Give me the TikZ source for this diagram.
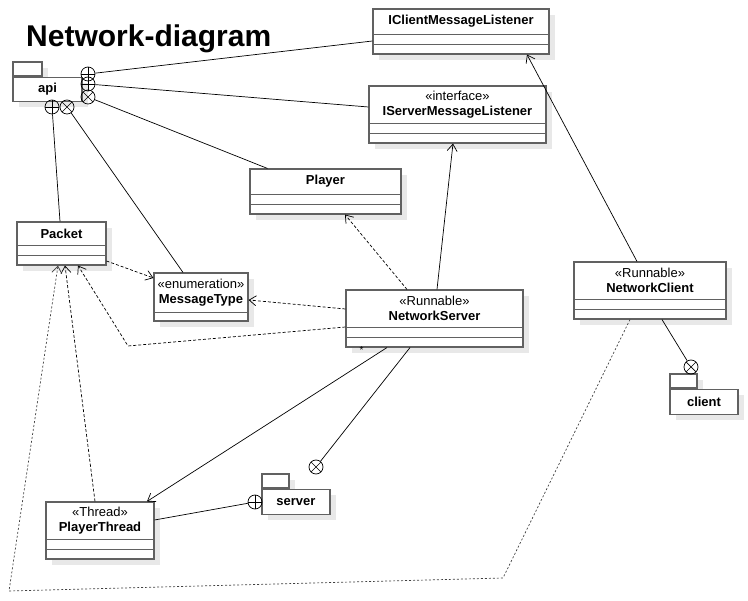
\documentclass[tikz,border=0pt]{standalone}
\usepackage{fontspec}
\setmainfont{Liberation Sans}
\usetikzlibrary{arrows.meta, shadows}

\tikzset{
  boxshadow/.style={drop shadow={shadow xshift=6pt, shadow yshift=-6pt, fill=black!9, opacity=1}},
  classbox/.style={draw=black!62, line width=1.1pt, fill=white, inner sep=0pt, boxshadow},
  classline/.style={draw=black!62, line width=1.1pt},
  classname/.style={font=\fontsize{13}{14.5}\selectfont, align=center, inner sep=0pt},
  pkgpart/.style={draw=black!62, line width=1.1pt, fill=white, inner sep=0pt, boxshadow,
    font=\bfseries\fontsize{13}{14.5}\selectfont},
  nestplus/.style={circle, draw, line width=0.7pt, minimum size=14pt, inner sep=0pt,
    path picture={\draw[line width=0.7pt] (path picture bounding box.north) -- (path picture bounding box.south)
      (path picture bounding box.west) -- (path picture bounding box.east);}},
  nestcross/.style={circle, draw, line width=0.7pt, minimum size=14pt, inner sep=0pt,
    path picture={\draw[line width=0.7pt] (path picture bounding box.north west) -- (path picture bounding box.south east)
      (path picture bounding box.north east) -- (path picture bounding box.south west);}},
  nestline/.style={line width=0.7pt},
  realize/.style={line width=0.7pt, -{Straight Barb[length=7pt, width=10pt]}},
  depend/.style={line width=0.7pt, dash pattern=on 3pt off 2pt, -{Straight Barb[length=7pt, width=10pt]}},
  fardepend/.style={line width=0.7pt, draw=black!75, dash pattern=on 2pt off 2pt, -{Straight Barb[length=7pt, width=10pt]}},
}

\begin{document}
\begin{tikzpicture}[x=1pt, y=-1pt]
\useasboundingbox (0,0) rectangle (748,601);

\node[anchor=base west, inner sep=0pt, font=\bfseries\fontsize{30}{32}\selectfont] (title) at (26,47) {Network-diagram};

% classes
\node[classbox, minimum width=176pt, minimum height=45pt] (iclient) at (461,31.5) {};
\node[classbox, minimum width=177pt, minimum height=57pt] (iserver) at (457.5,114.5) {};
\node[classbox, minimum width=151pt, minimum height=45pt] (player) at (325.5,191.5) {};
\node[classbox, minimum width=89pt, minimum height=43pt] (packet) at (61.5,243.5) {};
\node[classbox, minimum width=94pt, minimum height=48pt] (msgtype) at (201,297) {};
\node[classbox, minimum width=177pt, minimum height=57pt] (netserver) at (434.5,318.5) {};
\node[classbox, minimum width=152pt, minimum height=57pt] (netclient) at (650,290.5) {};
\node[classbox, minimum width=108pt, minimum height=57pt] (playerthread) at (100,530.5) {};

\foreach \c in {iclient, iserver, player, packet, netserver, netclient, playerthread}
  \draw[classline] ([yshift=10pt]\c.south west) -- ([yshift=10pt]\c.south east)
    ([yshift=20pt]\c.south west) -- ([yshift=20pt]\c.south east);
\draw[classline] ([yshift=9pt]msgtype.south west) -- ([yshift=9pt]msgtype.south east);

\node[classname] at ([yshift=10pt]iclient.center) {\textbf{IClientMessageListener}};
\node[classname] at ([yshift=10pt]iserver.center) {«interface»\\\textbf{IServerMessageListener}};
\node[classname] at ([yshift=10pt]player.center) {\textbf{Player}};
\node[classname] at ([yshift=10pt]packet.center) {\textbf{Packet}};
\node[classname] at ([yshift=4.5pt]msgtype.center) {«enumeration»\\\textbf{MessageType}};
\node[classname] at ([yshift=10pt]netserver.center) {«Runnable»\\\textbf{NetworkServer}};
\node[classname] at ([yshift=10pt]netclient.center) {«Runnable»\\\textbf{NetworkClient}};
\node[classname] at ([yshift=10pt]playerthread.center) {«Thread»\\\textbf{PlayerThread}};
\node[inner sep=0pt, font=\fontsize{10}{10}\selectfont] (mult) at ([xshift=16pt, yshift=-3pt]netserver.south west) {*};

% packages
\node[pkgpart, minimum width=29pt, minimum height=14pt] (apitab) at (27.5,69) {};
\node[pkgpart, minimum width=69pt, minimum height=24pt, anchor=north west] (api) at (apitab.south west) {api};
\node[pkgpart, minimum width=27pt, minimum height=14pt] (servertab) at (275.5,481) {};
\node[pkgpart, minimum width=68pt, minimum height=25pt, anchor=north west] (server) at (servertab.south west) {server};
\node[pkgpart, minimum width=27pt, minimum height=14pt] (clienttab) at (683.5,381) {};
\node[pkgpart, minimum width=68pt, minimum height=25pt, anchor=north west] (client) at (clienttab.south west) {client};

% nesting circles
\node[nestplus] (apiA) at (88,74) {};
\node[nestplus] (apiB) at (88,84) {};
\node[nestcross] (apiC) at (88,97) {};
\node[nestplus] (apiD) at (52,107) {};
\node[nestcross] (apiE) at (67,107) {};
\node[nestplus] (serverA) at (255,502) {};
\node[nestcross] (serverB) at (316,467) {};
\node[nestcross] (clientA) at (691,367) {};

% bends
\coordinate (srvbend) at (128,346);
\coordinate (clibendA) at (503,578);
\coordinate (clibendB) at (9,591);

\draw[nestline] (apiA) -- ([yshift=-9.5pt]iclient.west);
\draw[nestline] (apiB) -- ([yshift=7.5pt]iserver.west);
\draw[nestline] (apiC) -- ([xshift=18pt]player.north west);
\draw[nestline] (apiD) -- ([xshift=-1.5pt]packet.north);
\draw[nestline] (apiE) -- ([xshift=-18pt]msgtype.north);
\draw[nestline] ([yshift=10.5pt]playerthread.east) -- (serverA);
\draw[nestline] ([xshift=-24.5pt]netserver.south) -- (serverB);
\draw[nestline] ([xshift=12pt]netclient.south) -- (clientA);

\draw[realize] ([xshift=2.5pt]netserver.north) -- ([xshift=-4.5pt]iserver.south);
\draw[realize] ([xshift=-13pt]netclient.north) -- ([xshift=66pt]iclient.south);
\draw[realize] ([xshift=-47.5pt]netserver.south) -- ([xshift=47pt]playerthread.north);

\draw[depend] ([yshift=-17.5pt]packet.east) -- ([yshift=19pt]msgtype.west);
\draw[depend] ([yshift=9.5pt]netserver.west) -- ([yshift=-3pt]msgtype.east);
\draw[depend] ([yshift=-8.5pt]netserver.west) -- (srvbend) -- ([xshift=16.5pt]packet.south);
\draw[depend] ([xshift=-27.5pt]netserver.north) -- ([xshift=19.5pt]player.south);
\draw[depend] ([xshift=-5pt]playerthread.north) -- ([xshift=3.5pt]packet.south);
\draw[fardepend] ([xshift=-20pt]netclient.south) -- (clibendA) -- (clibendB) -- ([xshift=-3.5pt]packet.south);

\end{tikzpicture}
\end{document}
